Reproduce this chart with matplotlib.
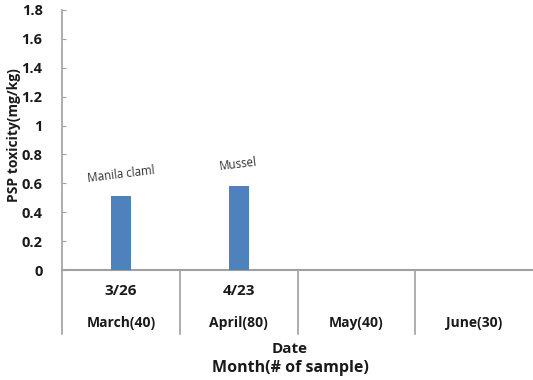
import matplotlib.pyplot as plt
import matplotlib.transforms as mtransforms

# PSP toxicity per monthly survey
months = ['March(40)', 'April(80)', 'May(40)', 'June(30)']
dates = ['3/26', '4/23', '', '']
toxicity = [0.51, 0.58, 0, 0]
species = ['Manila claml', 'Mussel', '', '']
y_ticks = [0, 0.2, 0.4, 0.6, 0.8, 1, 1.2, 1.4, 1.6, 1.8]

plt.rcParams['font.family'] = ['Open Sans', 'DejaVu Sans']

fig = plt.figure(figsize=(5.33, 3.8), dpi=100)
ax = fig.add_axes([62 / 533, 110 / 380, 471 / 533, 260 / 380])

x = list(range(len(months)))
ax.bar([i for i, v in zip(x, toxicity) if v > 0], [v for v in toxicity if v > 0],
       width=0.17, color='#4f81bd', zorder=3)

# species labels above bars
for i, (v, s) in enumerate(zip(toxicity, species)):
    if s:
        ax.annotate(s, xy=(i, v), xytext=(0, 16), textcoords='offset points',
                    ha='center', va='center', rotation=7, fontsize=8.3,
                    color='#333333')

ax.set_xlim(-0.5, len(months) - 0.5)
ax.set_ylim(0, 1.8)
ax.set_yticks(y_ticks)
ax.set_yticklabels([f'{t:g}' for t in y_ticks], fontsize=10.5, fontweight='bold',
                   color='#1a1a1a')
ax.tick_params(axis='y', direction='in', length=3, color='#a0a0a0', pad=14)
ax.set_xticks([])

for side in ['top', 'right']:
    ax.spines[side].set_visible(False)
ax.spines['left'].set_color('#a0a0a0')
ax.spines['bottom'].set_color('#a0a0a0')
ax.spines['left'].set_linewidth(1.2)
ax.spines['bottom'].set_linewidth(1.5)

# category table below the axis
trans = mtransforms.blended_transform_factory(ax.transData, ax.transAxes)
for b in [-0.5, 0.5, 1.5, 2.5]:
    ax.plot([b, b], [0, -0.246], transform=trans, color='#a0a0a0', lw=1.2,
            clip_on=False)
for i in x:
    ax.text(i, -0.081, dates[i], transform=trans, ha='center', va='center',
            fontsize=11, fontweight='bold', color='#1a1a1a')
    ax.text(i, -0.204, months[i], transform=trans, ha='center', va='center',
            fontsize=10, fontweight='bold', color='#1a1a1a')

fig.text(290 / 533, 1 - 349 / 380, 'Date', ha='center', va='center',
         fontsize=11, fontweight='bold', color='#1a1a1a')
fig.text(290 / 533, 1 - 368 / 380, 'Month(# of sample)', ha='center',
         va='center', fontsize=11.5, fontweight='bold', color='#1a1a1a')
fig.text(14 / 533, 1 - 135 / 380, 'PSP toxicity(mg/kg)', rotation=90,
         ha='center', va='center', fontsize=10, fontweight='bold',
         color='#1a1a1a')

fig.savefig('out.png', dpi=100)
